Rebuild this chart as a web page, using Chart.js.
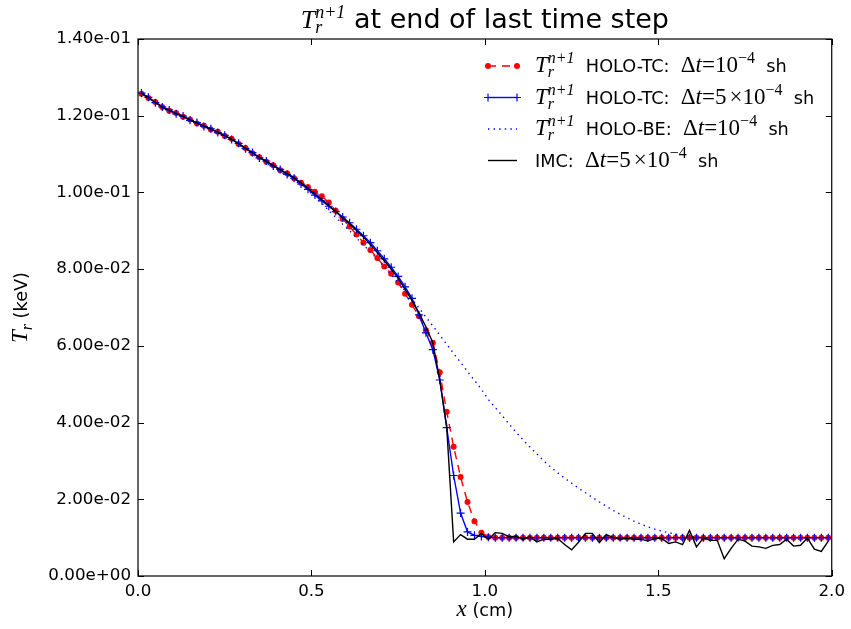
<!DOCTYPE html>
<html>
<head>
<meta charset="utf-8">
<script src="https://cdn.jsdelivr.net/npm/chart.js@4.4.0/dist/chart.umd.min.js"></script>
<style>
  html, body { margin: 0; padding: 0; background: #fff; }
  #wrap { width: 851px; height: 629px; }
</style>
</head>
<body>
<div id="wrap"><canvas id="chart" width="851" height="629"></canvas></div>
<script>
// cell centres (cm)
const xCells = [
  0.01, 0.03, 0.05, 0.07, 0.09, 0.11, 0.13, 0.15, 0.17, 0.19,
  0.21, 0.23, 0.25, 0.27, 0.29, 0.31, 0.33, 0.35, 0.37, 0.39,
  0.41, 0.43, 0.45, 0.47, 0.49, 0.51, 0.53, 0.55, 0.57, 0.59,
  0.61, 0.63, 0.65, 0.67, 0.69, 0.71, 0.73, 0.75, 0.77, 0.79,
  0.81, 0.83, 0.85, 0.87, 0.89, 0.91, 0.93, 0.95, 0.97, 0.99,
  1.01, 1.03, 1.05, 1.07, 1.09, 1.11, 1.13, 1.15, 1.17, 1.19,
  1.21, 1.23, 1.25, 1.27, 1.29, 1.31, 1.33, 1.35, 1.37, 1.39,
  1.41, 1.43, 1.45, 1.47, 1.49, 1.51, 1.53, 1.55, 1.57, 1.59,
  1.61, 1.63, 1.65, 1.67, 1.69, 1.71, 1.73, 1.75, 1.77, 1.79,
  1.81, 1.83, 1.85, 1.87, 1.89, 1.91, 1.93, 1.95, 1.97, 1.99
];

// HOLO-TC, dt = 1e-4 sh
const tcFine = [
  0.1257, 0.1246, 0.1236, 0.1223, 0.1213, 0.1207, 0.1197, 0.1190, 0.1180, 0.1174,
  0.1164, 0.1158, 0.1147, 0.1140, 0.1126, 0.1116, 0.1102, 0.1092, 0.1080, 0.1071,
  0.1058, 0.1050, 0.1037, 0.1025, 0.1014, 0.1002, 0.0990, 0.0974, 0.0952, 0.0931,
  0.0911, 0.0890, 0.0869, 0.0850, 0.0829, 0.0807, 0.0788, 0.0765, 0.0736, 0.0707,
  0.0677, 0.0641, 0.0608, 0.0531, 0.0428, 0.0337, 0.0258, 0.0193, 0.0143, 0.0113,
  0.0102, 0.0100, 0.0100, 0.0100, 0.0100, 0.0100, 0.0100, 0.0100, 0.0100, 0.0100,
  0.0100, 0.0100, 0.0100, 0.0100, 0.0100, 0.0100, 0.0100, 0.0100, 0.0100, 0.0100,
  0.0100, 0.0100, 0.0100, 0.0100, 0.0100, 0.0100, 0.0100, 0.0100, 0.0100, 0.0100,
  0.0100, 0.0100, 0.0100, 0.0100, 0.0100, 0.0100, 0.0100, 0.0100, 0.0100, 0.0100,
  0.0100, 0.0100, 0.0100, 0.0100, 0.0100, 0.0100, 0.0100, 0.0100, 0.0100, 0.0100
];

// HOLO-TC, dt = 5e-4 sh
const tcCoarse = [
  0.1259, 0.1248, 0.1234, 0.1223, 0.1215, 0.1205, 0.1199, 0.1188, 0.1182, 0.1172,
  0.1166, 0.1156, 0.1149, 0.1138, 0.1128, 0.1114, 0.1104, 0.1090, 0.1082, 0.1069,
  0.1060, 0.1047, 0.1037, 0.1022, 0.1008, 0.0993, 0.0978, 0.0964, 0.0950, 0.0936,
  0.0921, 0.0904, 0.0887, 0.0869, 0.0848, 0.0827, 0.0805, 0.0781, 0.0754, 0.0724,
  0.0681, 0.0634, 0.0590, 0.0511, 0.0387, 0.0262, 0.0164, 0.0115, 0.0106, 0.0103,
  0.0101, 0.0100, 0.0100, 0.0100, 0.0100, 0.0100, 0.0100, 0.0100, 0.0100, 0.0100,
  0.0100, 0.0100, 0.0100, 0.0100, 0.0100, 0.0100, 0.0100, 0.0100, 0.0100, 0.0100,
  0.0100, 0.0100, 0.0100, 0.0100, 0.0100, 0.0100, 0.0100, 0.0100, 0.0100, 0.0100,
  0.0100, 0.0100, 0.0100, 0.0100, 0.0100, 0.0100, 0.0100, 0.0100, 0.0100, 0.0100,
  0.0100, 0.0100, 0.0100, 0.0100, 0.0100, 0.0100, 0.0100, 0.0100, 0.0100, 0.0100
];

// HOLO-BE, dt = 1e-4 sh
const beFine = [
  0.1258, 0.1246, 0.1234, 0.1222, 0.1213, 0.1205, 0.1197, 0.1188, 0.1180, 0.1172,
  0.1164, 0.1155, 0.1146, 0.1137, 0.1125, 0.1113, 0.1100, 0.1088, 0.1077, 0.1065,
  0.1054, 0.1043, 0.1032, 0.1020, 0.1005, 0.0990, 0.0972, 0.0952, 0.0935, 0.0917,
  0.0900, 0.0881, 0.0863, 0.0845, 0.0826, 0.0806, 0.0786, 0.0765, 0.0744, 0.0722,
  0.0699, 0.0675, 0.0652, 0.0628, 0.0604, 0.0580, 0.0557, 0.0533, 0.0510, 0.0487,
  0.0460, 0.0439, 0.0418, 0.0396, 0.0375, 0.0355, 0.0336, 0.0318, 0.0300, 0.0284,
  0.0269, 0.0255, 0.0242, 0.0229, 0.0217, 0.0205, 0.0193, 0.0182, 0.0171, 0.0161,
  0.0152, 0.0143, 0.0135, 0.0128, 0.0122, 0.0117, 0.0113, 0.0109, 0.0106, 0.0104,
  0.0102, 0.0101, 0.0100, 0.0100, 0.0100, 0.0100, 0.0100, 0.0100, 0.0100, 0.0100,
  0.0100, 0.0100, 0.0100, 0.0100, 0.0100, 0.0100, 0.0100, 0.0100, 0.0100, 0.0100
];

// IMC, dt = 5e-4 sh
const imc = [
  0.1258, 0.1247, 0.1235, 0.1222, 0.1214, 0.1206, 0.1198, 0.1189, 0.1181, 0.1173,
  0.1165, 0.1157, 0.1148, 0.1139, 0.1127, 0.1115, 0.1103, 0.1091, 0.1081, 0.1070,
  0.1059, 0.1049, 0.1038, 0.1025, 0.1011, 0.0996, 0.0981, 0.0966, 0.0950, 0.0934,
  0.0918, 0.0901, 0.0884, 0.0864, 0.0843, 0.0822, 0.0800, 0.0776, 0.0748, 0.0718,
  0.0686, 0.0650, 0.0608, 0.0511, 0.0388, 0.0089, 0.0108, 0.0096, 0.0096, 0.0111,
  0.0096, 0.0113, 0.0111, 0.0102, 0.0104, 0.0096, 0.0102, 0.0089, 0.0096, 0.0096,
  0.0098, 0.0082, 0.0068, 0.0088, 0.0111, 0.0111, 0.0087, 0.0108, 0.0100, 0.0096,
  0.0098, 0.0096, 0.0096, 0.0091, 0.0098, 0.0098, 0.0085, 0.0089, 0.0082, 0.0119,
  0.0076, 0.0099, 0.0093, 0.0093, 0.0045, 0.0072, 0.0096, 0.0091, 0.0078, 0.0076,
  0.0072, 0.0080, 0.0082, 0.0096, 0.0078, 0.0080, 0.0099, 0.0070, 0.0064, 0.0091
];

const xTicks = [0, 0.5, 1.0, 1.5, 2.0];
const yTicks = [0, 0.02, 0.04, 0.06, 0.08, 0.10, 0.12, 0.14];

const RED = '#ff0000';
const BLUE = '#0000ff';
const BLACK = '#000000';

const TICK_FONT = { family: 'DejaVu Sans', size: 16.7 };
const RM = '17.7px "DejaVu Sans"';
const MI = 'italic 23px "Liberation Serif"';
const MR = '23px "Liberation Serif"';
const SI = 'italic 16px "Liberation Serif"';
const SR = '16px "Liberation Serif"';

function pts(ys) {
  return xCells.map((x, i) => ({ x: x, y: ys[i] }));
}

function fmtExp(v) {
  const s = Number(v).toExponential(2);
  const parts = s.split('e');
  const sign = parts[1][0];
  const d = parts[1].slice(1).padStart(2, '0');
  return parts[0] + 'e' + sign + d;
}

// draws a run of text pieces (with sub/superscripts) starting at x, baseline y
function drawRich(ctx, segs, x, y, align) {
  const widths = segs.map(s => {
    if (s.gap) return s.gap;
    const list = s.stack || [s];
    return Math.max.apply(null, list.map(p => { ctx.font = p.f; return ctx.measureText(p.t).width; }));
  });
  const total = widths.reduce((a, b) => a + b, 0);
  let cx = align === 'center' ? x - total / 2 : x;
  ctx.textAlign = 'left';
  ctx.textBaseline = 'alphabetic';
  segs.forEach((s, i) => {
    if (!s.gap) {
      (s.stack || [s]).forEach(p => {
        ctx.font = p.f;
        ctx.fillText(p.t, cx, y + (p.dy || 0));
      });
    }
    cx += widths[i];
  });
}

const trSegs = [
  { t: 'T', f: MI },
  { stack: [{ t: 'n+1', f: SI, dy: -9 }, { t: 'r', f: SI, dy: 5 }] }
];

function dtSegs(coef) {
  const out = [{ t: 'Δ', f: MR }, { t: 't', f: MI }, { t: '=', f: MR }];
  if (coef) {
    out.push({ t: coef, f: MR }, { gap: 3 }, { t: '×', f: MR });
  }
  out.push({ t: '10', f: MR }, { t: '−4', f: SR, dy: -9 });
  return out;
}

const legendRows = [
  { kind: 'red', segs: trSegs.concat([{ t: '  HOLO-TC:  ', f: RM }], dtSegs(null), [{ t: '  sh', f: RM }]) },
  { kind: 'blue', segs: trSegs.concat([{ t: '  HOLO-TC:  ', f: RM }], dtSegs('5'), [{ t: '  sh', f: RM }]) },
  { kind: 'dot', segs: trSegs.concat([{ t: '  HOLO-BE:  ', f: RM }], dtSegs(null), [{ t: '  sh', f: RM }]) },
  { kind: 'black', segs: [{ t: 'IMC:  ', f: RM }].concat(dtSegs('5'), [{ t: '  sh', f: RM }]) }
];

function drawCross(ctx, x, y, r) {
  ctx.beginPath();
  ctx.moveTo(x - r, y); ctx.lineTo(x + r, y);
  ctx.moveTo(x, y - r); ctx.lineTo(x, y + r);
  ctx.stroke();
}

const decor = {
  id: 'decor',
  afterDraw(chart) {
    const ctx = chart.ctx;
    const a = chart.chartArea;
    const xs = chart.scales.x;
    const ys = chart.scales.y;
    ctx.save();

    // frame
    ctx.strokeStyle = BLACK;
    ctx.lineWidth = 1.2;
    ctx.strokeRect(a.left, a.top, a.right - a.left, a.bottom - a.top);

    // inward ticks on all four sides
    ctx.lineWidth = 1;
    ctx.beginPath();
    xTicks.forEach(v => {
      const px = Math.round(xs.getPixelForValue(v)) + 0.5;
      ctx.moveTo(px, a.bottom); ctx.lineTo(px, a.bottom - 6);
      ctx.moveTo(px, a.top); ctx.lineTo(px, a.top + 6);
    });
    yTicks.forEach(v => {
      const py = Math.round(ys.getPixelForValue(v)) + 0.5;
      ctx.moveTo(a.left, py); ctx.lineTo(a.left + 6, py);
      ctx.moveTo(a.right, py); ctx.lineTo(a.right - 6, py);
    });
    ctx.stroke();

    ctx.fillStyle = BLACK;
    // title
    const cxMid = (a.left + a.right) / 2;
    drawRich(ctx, [
      { t: 'T', f: 'italic 26px "Liberation Serif"' },
      { stack: [{ t: 'n+1', f: 'italic 18px "Liberation Serif"', dy: -10 }, { t: 'r', f: 'italic 18px "Liberation Serif"', dy: 5 }] },
      { t: ' at end of last time step', f: '27px "DejaVu Sans"' }
    ], cxMid, 28, 'center');

    // x axis label
    drawRich(ctx, [{ t: 'x', f: MI }, { t: ' (cm)', f: RM }], cxMid, 616, 'center');

    // y axis label
    ctx.save();
    ctx.translate(27, (a.top + a.bottom) / 2);
    ctx.rotate(-Math.PI / 2);
    drawRich(ctx, [
      { t: 'T', f: MI },
      { t: 'r', f: SI, dy: 5 },
      { t: ' (keV)', f: RM }
    ], 0, 0, 'center');
    ctx.restore();

    // legend
    const lx0 = 488, lx1 = 517, tx = 535;
    const rowY = [66, 97.5, 129, 160.5];
    legendRows.forEach((row, i) => {
      const y = rowY[i];
      ctx.save();
      ctx.lineWidth = 1.4;
      if (row.kind === 'red') {
        ctx.strokeStyle = RED; ctx.fillStyle = RED;
        ctx.setLineDash([8, 6]);
        ctx.beginPath(); ctx.moveTo(lx0, y); ctx.lineTo(lx1, y); ctx.stroke();
        ctx.setLineDash([]);
        [lx0, lx1].forEach(px => { ctx.beginPath(); ctx.arc(px, y, 3, 0, Math.PI * 2); ctx.fill(); });
      } else if (row.kind === 'blue') {
        ctx.strokeStyle = BLUE;
        ctx.beginPath(); ctx.moveTo(lx0, y); ctx.lineTo(lx1, y); ctx.stroke();
        ctx.lineWidth = 1.2;
        drawCross(ctx, lx0, y, 4); drawCross(ctx, lx1, y, 4);
      } else if (row.kind === 'dot') {
        ctx.strokeStyle = BLUE;
        ctx.setLineDash([1.4, 4.2]);
        ctx.beginPath(); ctx.moveTo(lx0, y); ctx.lineTo(lx1, y); ctx.stroke();
      } else {
        ctx.strokeStyle = BLACK;
        ctx.beginPath(); ctx.moveTo(lx0, y); ctx.lineTo(lx1, y); ctx.stroke();
      }
      ctx.restore();
      ctx.fillStyle = BLACK;
      drawRich(ctx, row.segs, tx, y + 6, 'left');
    });

    ctx.restore();
  }
};

new Chart(document.getElementById('chart'), {
  type: 'line',
  data: {
    datasets: [
      {
        label: 'HOLO-TC dt=1e-4',
        data: pts(tcFine),
        borderColor: RED,
        backgroundColor: RED,
        borderWidth: 1.4,
        borderDash: [8, 6],
        pointStyle: 'circle',
        pointRadius: 3,
        pointBorderWidth: 0,
        pointBackgroundColor: RED,
        order: 3
      },
      {
        label: 'HOLO-TC dt=5e-4',
        data: pts(tcCoarse),
        borderColor: BLUE,
        backgroundColor: BLUE,
        borderWidth: 1.4,
        pointStyle: 'cross',
        pointRadius: 4,
        pointBorderWidth: 1.2,
        pointBorderColor: BLUE,
        order: 2
      },
      {
        label: 'HOLO-BE dt=1e-4',
        data: pts(beFine),
        borderColor: BLUE,
        borderWidth: 1.4,
        borderDash: [1.4, 4.2],
        pointRadius: 0,
        order: 1
      },
      {
        label: 'IMC dt=5e-4',
        data: pts(imc),
        borderColor: BLACK,
        borderWidth: 1.4,
        pointRadius: 0,
        order: 0
      }
    ]
  },
  options: {
    responsive: false,
    animation: false,
    devicePixelRatio: 1,
    layout: { padding: { top: 39, right: 19, left: 0, bottom: 0 } },
    plugins: {
      legend: { display: false },
      title: { display: false },
      tooltip: { enabled: false }
    },
    elements: { line: { tension: 0 } },
    scales: {
      x: {
        type: 'linear',
        min: 0,
        max: 2,
        afterBuildTicks: s => { s.ticks = xTicks.map(v => ({ value: v })); },
        afterFit: s => { s.height = 53; },
        grid: { display: false, drawTicks: false },
        border: { display: false },
        ticks: { color: BLACK, font: TICK_FONT, padding: 6, maxRotation: 0, callback: v => Number(v).toFixed(1) }
      },
      y: {
        type: 'linear',
        min: 0,
        max: 0.14,
        afterBuildTicks: s => { s.ticks = yTicks.map(v => ({ value: v })); },
        afterFit: s => { s.width = 138; },
        grid: { display: false, drawTicks: false },
        border: { display: false },
        ticks: { color: BLACK, font: TICK_FONT, padding: 7, callback: v => fmtExp(v) }
      }
    }
  },
  plugins: [decor]
});
</script>
</body>
</html>
